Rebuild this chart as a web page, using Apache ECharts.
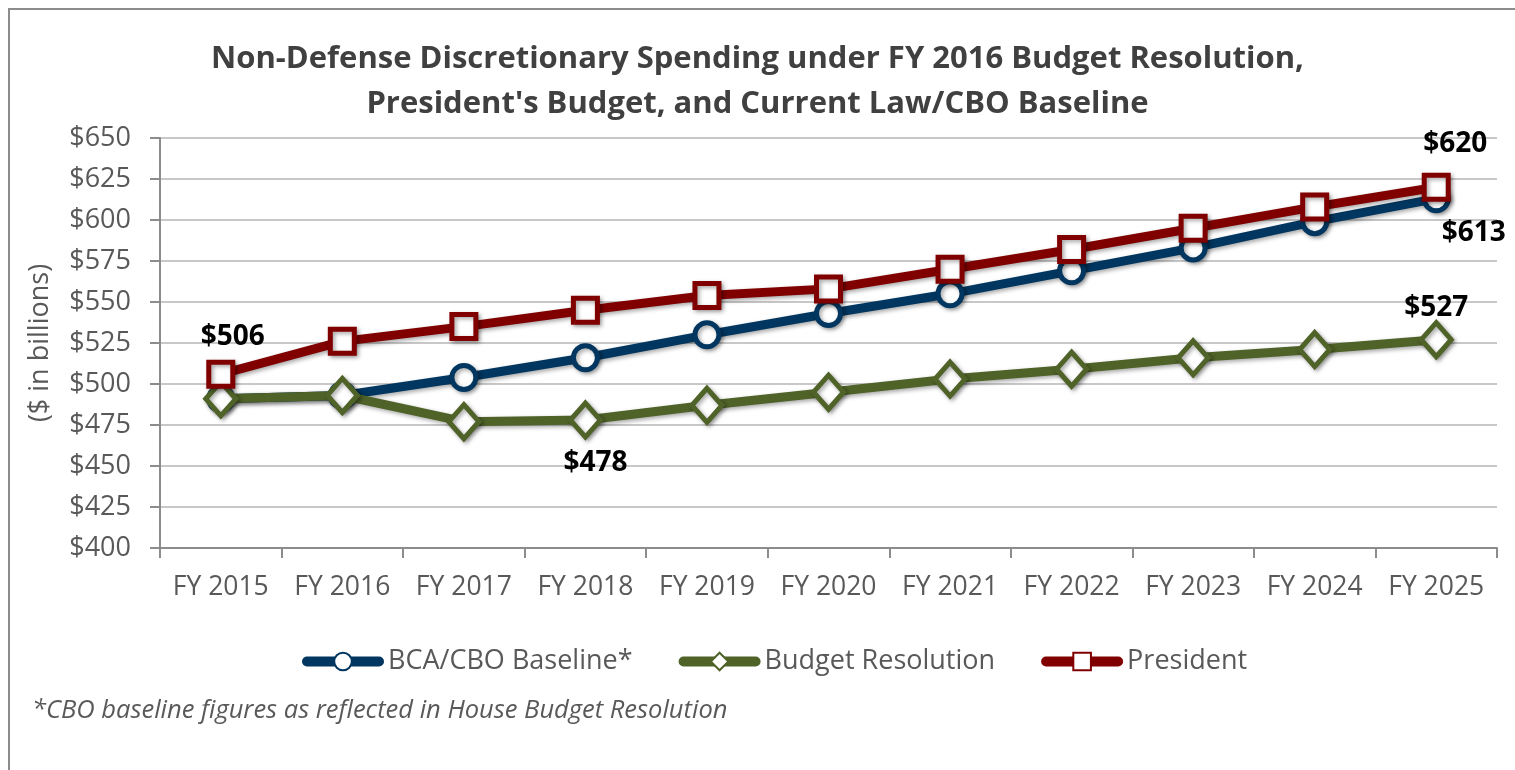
<!DOCTYPE html>
<html><head><meta charset="utf-8">
<script src="https://cdn.jsdelivr.net/npm/echarts@6/dist/echarts.min.js"></script>
<style>
html,body{margin:0;padding:0;background:#fff;}
#frame{position:absolute;left:8px;top:8px;width:1600px;height:900px;border:2px solid #8c8c8c;box-sizing:border-box;}
#c{position:absolute;left:0;top:0;width:1515px;height:770px;}
</style></head>
<body><div id="frame"></div><div id="c"></div>
<script>
const categories = ['FY 2015','FY 2016','FY 2017','FY 2018','FY 2019','FY 2020','FY 2021','FY 2022','FY 2023','FY 2024','FY 2025'];
const bcaBaseline = [491, 493, 504, 516, 530, 543, 555, 569, 583, 599, 613];
const budgetResolution = [491, 493, 477, 478, 487, 495, 503, 509, 516, 521, 527];
const president = [506, 526, 535, 545, 554, 558, 570, 582, 595, 608, 620];
const yTicks = [400, 425, 450, 475, 500, 525, 550, 575, 600, 625, 650];

const FONT = '"Open Sans", Lato, sans-serif';
const lab = (pos, off) => ({show:true, position:pos, offset:off||[0,0], formatter:'${c}', color:'#000', fontSize:28, fontWeight:'bold', fontFamily:FONT});
function build(vals, labels){
  return vals.map((v,i)=> labels[i] ? {value:v, label:labels[i]} : v);
}
const chart = echarts.init(document.getElementById('c'), null, {renderer:'canvas'});
const shadow = {shadowColor:'rgba(0,0,0,0.35)', shadowBlur:4, shadowOffsetX:2, shadowOffsetY:2};
chart.setOption({
  animation:false,
  title:{text:'Non-Defense Discretionary Spending under FY 2016 Budget Resolution,\nPresident\'s Budget, and Current Law/CBO Baseline',
    left:'center', top:32, textStyle:{fontFamily:FONT, fontSize:31, fontWeight:'bold', color:'#404040', lineHeight:45}},
  grid:{left:160, right:18, top:138, bottom:222, containLabel:false},
  legend:{bottom:90, left:297, itemWidth:72, itemHeight:22, itemGap:46,
    lineStyle:{width:10, cap:'round'},
    textStyle:{fontFamily:FONT, fontSize:27, color:'#595959', padding:[0,0,0,4]},
    data:['BCA/CBO Baseline*','Budget Resolution','President']},
  xAxis:{type:'category', data:categories, boundaryGap:true,
    axisLine:{lineStyle:{color:'#8c8c8c', width:2}},
    axisTick:{show:true, interval:0, length:10, lineStyle:{color:'#8c8c8c', width:2}},
    axisLabel:{interval:0, fontFamily:FONT, fontSize:26.5, color:'#595959', margin:26}},
  yAxis:{type:'value', min:400, max:650, interval:25,
    name:'($ in billions)', nameLocation:'middle', nameGap:106, nameRotate:90,
    nameTextStyle:{fontFamily:FONT, fontSize:27, color:'#595959'},
    axisLine:{show:true, lineStyle:{color:'#8c8c8c', width:2}},
    axisTick:{show:true, length:10, lineStyle:{color:'#8c8c8c', width:2}},
    axisLabel:{fontFamily:FONT, fontSize:27, color:'#595959', margin:29, formatter:v=>'$'+v,
      customValues: yTicks},
    splitLine:{lineStyle:{color:'#c8c8c8', width:2}}},
  series:[
    {name:'BCA/CBO Baseline*', type:'line', data:build(bcaBaseline,{10:lab('right',[-14,34])}),
      symbol:'circle', symbolSize:24, lineStyle:{color:'#00365F', width:9, ...shadow},
      itemStyle:{color:'#fff', borderColor:'#00365F', borderWidth:5, ...shadow}, z:2},
    {name:'Budget Resolution', type:'line', data:build(budgetResolution,{3:lab('bottom',[10,4]),10:lab('top',[0,7])}),
      symbol:'diamond', symbolSize:[30,34], lineStyle:{color:'#4F6228', width:9, ...shadow},
      itemStyle:{color:'#fff', borderColor:'#4F6228', borderWidth:5, ...shadow}, z:3},
    {name:'President', type:'line', data:build(president,{0:lab('top',[12,-4]),10:lab('top',[19,-10])}),
      symbol:'rect', symbolSize:24, lineStyle:{color:'#800000', width:9, ...shadow},
      itemStyle:{color:'#fff', borderColor:'#800000', borderWidth:5, ...shadow}, z:4}
  ],
  graphic:[{type:'text', left:32, top:698, style:{text:'*CBO baseline figures as reflected in House Budget Resolution',
    fontFamily:FONT, fontSize:25.5, fontStyle:'italic', fill:'#595959'}}]
});
</script></body></html>
